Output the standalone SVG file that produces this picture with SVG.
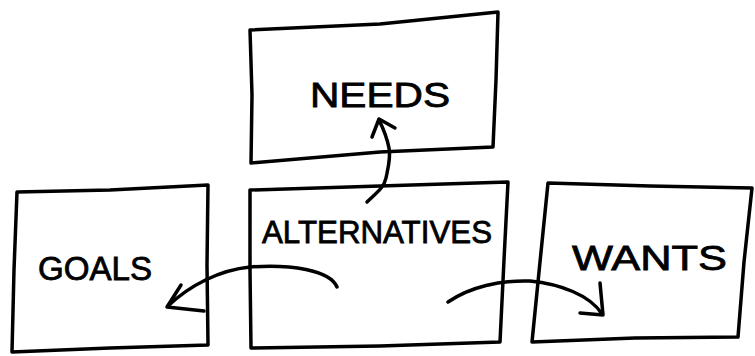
<svg xmlns="http://www.w3.org/2000/svg" width="755" height="356" viewBox="0 0 755 356">
<style>
.box{fill:none;stroke:#000;stroke-width:3.5;stroke-linejoin:round;stroke-linecap:round}
.con{fill:none;stroke:#000;stroke-width:3.5;stroke-linecap:round;stroke-linejoin:round}
.lbl{font-family:"Liberation Sans","DejaVu Sans",sans-serif;font-size:35px;fill:#000;stroke:#000;stroke-width:0.8}
</style>
<rect width="755" height="356" fill="#fff"/>
<g id="needs">
<path class="box" d="M250 30 L380 24 L498 12 L496 80 L493 147 L380 152 L251 163 L252 95 Z"/>
<text class="lbl" x="310" y="107" textLength="140" lengthAdjust="spacingAndGlyphs">NEEDS</text>
</g>
<g id="alternatives">
<path class="box" d="M250 190 L380 186 L508 182 L504 260 L500 342 L380 346 L251 348 L250 270 Z"/>
<text class="lbl" x="262" y="243" textLength="230" lengthAdjust="spacingAndGlyphs" style="font-size:32px">ALTERNATIVES</text>
</g>
<g id="goals">
<path class="box" d="M17 192 L110 190 L208 185 L207 265 L208 345 L110 348 L12 352 L14 270 Z"/>
<text class="lbl" x="38" y="280" textLength="114" lengthAdjust="spacingAndGlyphs" style="font-size:33px">GOALS</text>
</g>
<g id="wants">
<path class="box" d="M548 183 L650 186 L752 188 L744 262 L738 337 L635 338 L532 342 L540 262 Z"/>
<text class="lbl" x="572" y="270" textLength="155" lengthAdjust="spacingAndGlyphs">WANTS</text>
</g>
<g id="connectors">
<path class="con" d="M367 202 C375 194 384 188 386 178 C388 168 391 158 389 148 C387 138 383 128 379 120"/>
<path class="con" d="M372 137 L379 119 L395 128"/>
<path class="con" d="M337 287 C330 270 290 264 250 267 C220 270 190 285 168 306"/>
<path class="con" d="M181 285 L167 307 L204 311"/>
<path class="con" d="M448 302 C470 287 500 280 530 281 C560 284 590 295 602 314"/>
<path class="con" d="M600 283 L603 315 L580 313"/>
</g>
</svg>
